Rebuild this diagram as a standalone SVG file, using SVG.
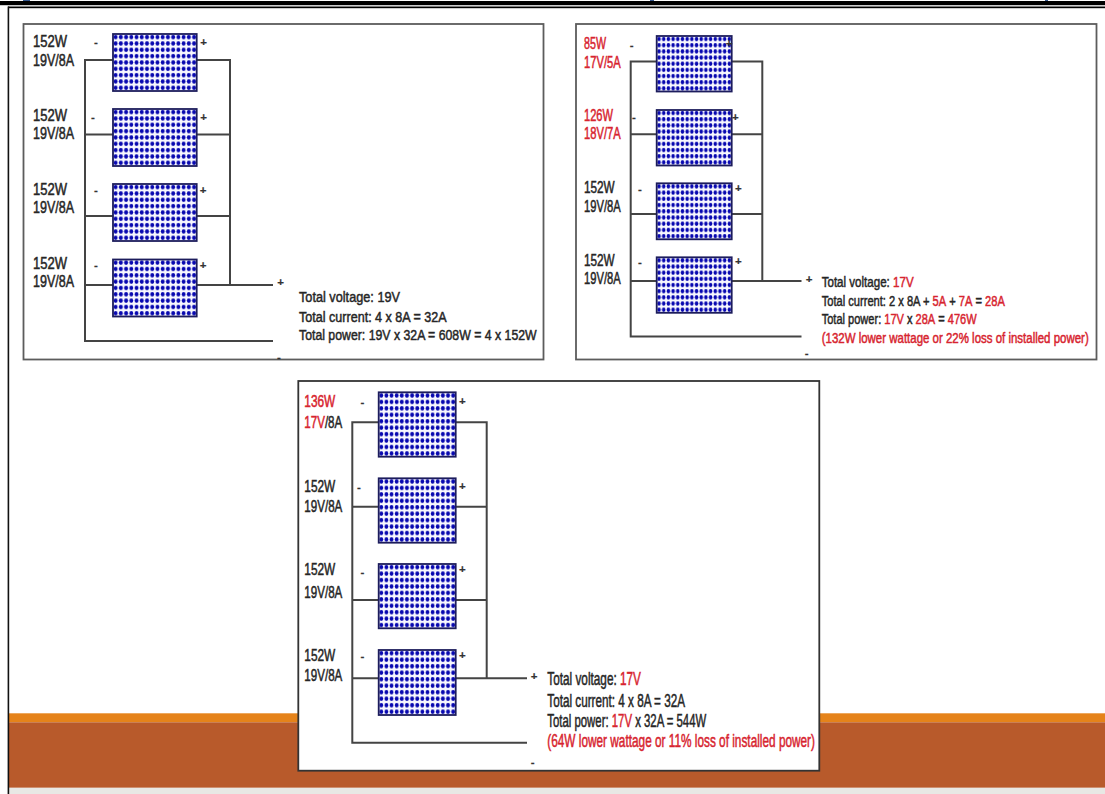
<svg xmlns="http://www.w3.org/2000/svg" width="1105" height="794" viewBox="0 0 1105 794">
<style>
text{font-family:"Liberation Sans",Arial,sans-serif;fill:#262626;stroke:#262626;stroke-width:.5}
.l{font-size:16px}.t1{font-size:15.5px}.t2{font-size:15px}.t3{font-size:17.5px}
.s{font-size:11.5px;text-anchor:middle;font-weight:bold;stroke-width:.2;fill:#333;stroke:#333}
.r,.r tspan,tspan.r{fill:#d7242f;stroke:#d7242f}
.panel{fill:#fff;stroke:#5c5c5c;stroke-width:1.8}
.m{stroke:#1c1c5c;stroke-width:1.8}.m9{fill:url(#cells9)}.m10{fill:url(#cells10)}
.w{fill:none;stroke:#444;stroke-width:2}
</style>
<defs>
<pattern id="cells9" width=".0625" height=".1111" patternContentUnits="objectBoundingBox"><rect width=".0625" height=".1111" fill="#f8f8ff"/><ellipse cx=".03125" cy=".0555" rx=".0235" ry=".039" fill="#0808b0"/></pattern>
<pattern id="cells10" width=".0667" height=".1" patternContentUnits="objectBoundingBox"><rect width=".0667" height=".1" fill="#f8f8ff"/><ellipse cx=".0333" cy=".05" rx=".025" ry=".035" fill="#0808b0"/></pattern>
</defs>
<rect width="1105" height="794" fill="#fff"/>
<g id="footer">
<rect x="9" y="713.3" width="1096" height="9" fill="#e5831a"/>
<rect x="9" y="722.3" width="1096" height="65.5" fill="#b85a2b"/>
<rect x="9" y="787.8" width="1096" height="6.2" fill="#e8e8e4"/>
</g>
<g id="frame">
<rect x="0" y="1" width="1105" height="4.2" fill="#000"/>
<rect x="8" y="6.5" width="1097" height="1.7" fill="#000"/>
<rect x="7.6" y="6.5" width="1.6" height="787.5" fill="#111"/>
<rect x="23" y="0" width="7" height="1" fill="#34568c"/><rect x="650" y="0" width="4" height="1" fill="#34568c"/><rect x="1045" y="0" width="3" height="1" fill="#34568c"/>
</g>

<g id="panel-1">
<rect class="panel" x="23.5" y="24" width="520" height="335.5"/>
<g id="p1-connectors"><path class="w" d="M113 60H85V341H273M196.7 60H230V285M85 134.5H113M196.7 134.5H230M85 216H113M196.7 216H230M85 285H113M196.7 285H273"/></g>
<g id="p1-m1"><rect class="m m9" x="113" y="34" width="83.7" height="57"/><text class="l" x="33" y="46.5" textLength="34" lengthAdjust="spacingAndGlyphs">152W</text><text class="l" x="33" y="65.5" textLength="41" lengthAdjust="spacingAndGlyphs">19V/8A</text><text class="s" x="96" y="46">-</text><text class="s" x="203.5" y="46">+</text></g>
<g id="p1-m2"><rect class="m m9" x="113" y="109" width="83.7" height="57"/><text class="l" x="33" y="120.7" textLength="34" lengthAdjust="spacingAndGlyphs">152W</text><text class="l" x="33" y="139.3" textLength="41" lengthAdjust="spacingAndGlyphs">19V/8A</text><text class="s" x="93" y="121">-</text><text class="s" x="203.5" y="120.5">+</text></g>
<g id="p1-m3"><rect class="m m9" x="113" y="184" width="83.7" height="57"/><text class="l" x="33" y="194.7" textLength="34" lengthAdjust="spacingAndGlyphs">152W</text><text class="l" x="33" y="213" textLength="41" lengthAdjust="spacingAndGlyphs">19V/8A</text><text class="s" x="96" y="194">-</text><text class="s" x="203" y="194">+</text></g>
<g id="p1-m4"><rect class="m m9" x="113" y="259.5" width="83.7" height="57"/><text class="l" x="33" y="268.5" textLength="34" lengthAdjust="spacingAndGlyphs">152W</text><text class="l" x="33" y="287" textLength="41" lengthAdjust="spacingAndGlyphs">19V/8A</text><text class="s" x="96" y="269">-</text><text class="s" x="203" y="268.7">+</text></g>
<g id="p1-terminals"><text class="s" x="280.7" y="286">+</text><text class="s" x="279" y="361">-</text></g>
<g id="p1-totals">
<text class="t1" x="299" y="302.3" textLength="101" lengthAdjust="spacingAndGlyphs">Total voltage: 19V</text>
<text class="t1" x="299" y="321.7" textLength="147.7" lengthAdjust="spacingAndGlyphs">Total current: 4 x 8A = 32A</text>
<text class="t1" x="299" y="340" textLength="237.7" lengthAdjust="spacingAndGlyphs">Total power: 19V x 32A = 608W = 4 x 152W</text>
</g>
</g>

<g id="panel-2">
<rect class="panel" x="576" y="24" width="520.5" height="335.5"/>
<g id="p2-connectors"><path class="w" d="M656.7 61.5H630.7V336.5H801.5M731.7 61.5H762.3V281M630.7 134.3H656.7M731.7 134.3H762.3M630.7 214H656.7M731.7 214H762.3M630.7 281H656.7M731.7 281H801.5"/></g>
<g id="p2-m1"><rect class="m m9" x="656.7" y="36" width="75" height="55.5"/><text class="l r" x="584" y="49" textLength="22" lengthAdjust="spacingAndGlyphs">85W</text><text class="l r" x="584" y="67.7" textLength="36.7" lengthAdjust="spacingAndGlyphs">17V/5A</text><text class="s" x="631.7" y="48.7">-</text><text class="s" x="729" y="47">+</text></g>
<g id="p2-m2"><rect class="m m9" x="656.7" y="110" width="75" height="55.5"/><text class="l r" x="584" y="121" textLength="29" lengthAdjust="spacingAndGlyphs">126W</text><text class="l r" x="584" y="139.3" textLength="36.7" lengthAdjust="spacingAndGlyphs">18V/7A</text><text class="s" x="634" y="121">-</text><text class="s" x="735.3" y="120.7">+</text></g>
<g id="p2-m3"><rect class="m m9" x="656.7" y="183.3" width="75" height="56"/><text class="l" x="584" y="193.3" textLength="30.7" lengthAdjust="spacingAndGlyphs">152W</text><text class="l" x="584" y="212" textLength="36.7" lengthAdjust="spacingAndGlyphs">19V/8A</text><text class="s" x="640" y="193.3">-</text><text class="s" x="738.3" y="192.3">+</text></g>
<g id="p2-m4"><rect class="m m9" x="656.7" y="257.3" width="75" height="55.5"/><text class="l" x="584" y="266" textLength="30.7" lengthAdjust="spacingAndGlyphs">152W</text><text class="l" x="584" y="284" textLength="36.7" lengthAdjust="spacingAndGlyphs">19V/8A</text><text class="s" x="640" y="265.7">-</text><text class="s" x="738.3" y="265">+</text></g>
<g id="p2-terminals"><text class="s" x="809" y="283">+</text><text class="s" x="806.7" y="356.6">-</text></g>
<g id="p2-totals">
<text class="t2" transform="translate(821.7 287.3) scale(.772 1)">Total voltage: <tspan class="r">17V</tspan></text>
<text class="t2" transform="translate(821.7 306) scale(.742 1)">Total current: 2 x 8A + <tspan class="r">5A</tspan> + <tspan class="r">7A</tspan> = <tspan class="r">28A</tspan></text>
<text class="t2" transform="translate(821.7 324) scale(.7366 1)">Total power: <tspan class="r">17V</tspan> x <tspan class="r">28A</tspan> = <tspan class="r">476W</tspan></text>
<text class="t2 r" transform="translate(821.7 342.7) scale(.765 1)">(132W lower wattage or 22% loss of installed power)</text>
</g>
</g>

<g id="panel-3">
<rect class="panel" style="stroke:#333" x="298.3" y="381" width="521" height="389.7"/>
<g id="p3-connectors"><path class="w" d="M378.7 422.3H352.3V742.7H527M455.7 422.3H486.7V678.3M352.3 506.7H378.7M455.7 506.7H486.7M352.3 600H378.7M455.7 600H486.7M352.3 678.3H378.7M455.7 678.3H527"/></g>
<g id="p3-m1"><rect class="m m10" x="378.7" y="392.3" width="77" height="64.4"/><text class="l r" x="304.3" y="406.7" textLength="31" lengthAdjust="spacingAndGlyphs">136W</text><text class="l" transform="translate(304.3 427.7) scale(.724 1)"><tspan class="r">17V</tspan>/8A</text><text class="s" x="362.3" y="405.7">-</text><text class="s" x="462.3" y="405">+</text></g>
<g id="p3-m2"><rect class="m m10" x="378.7" y="478.3" width="77" height="64.4"/><text class="l" x="304.3" y="491.7" textLength="31" lengthAdjust="spacingAndGlyphs">152W</text><text class="l" x="304.3" y="512.3" textLength="38" lengthAdjust="spacingAndGlyphs">19V/8A</text><text class="s" x="359" y="491.3">-</text><text class="s" x="462.3" y="490.3">+</text></g>
<g id="p3-m3"><rect class="m m10" x="378.7" y="564" width="77" height="64.3"/><text class="l" x="304.3" y="575" textLength="31" lengthAdjust="spacingAndGlyphs">152W</text><text class="l" x="304.3" y="597.7" textLength="38" lengthAdjust="spacingAndGlyphs">19V/8A</text><text class="s" x="362.3" y="575.7">-</text><text class="s" x="462.3" y="573.3">+</text></g>
<g id="p3-m4"><rect class="m m10" x="378.7" y="650" width="77" height="65"/><text class="l" x="304.3" y="660.7" textLength="31" lengthAdjust="spacingAndGlyphs">152W</text><text class="l" x="304.3" y="681" textLength="38" lengthAdjust="spacingAndGlyphs">19V/8A</text><text class="s" x="362.3" y="659.7">-</text><text class="s" x="462.3" y="659">+</text></g>
<g id="p3-terminals"><text class="s" x="534" y="679.7">+</text><text class="s" x="532.7" y="765.7">-</text></g>
<g id="p3-totals">
<text class="t3" transform="translate(547.3 685) scale(.674 1)">Total voltage: <tspan class="r">17V</tspan></text>
<text class="t3" x="547.3" y="706.7" textLength="137.7" lengthAdjust="spacingAndGlyphs">Total current: 4 x 8A = 32A</text>
<text class="t3" transform="translate(547.3 727.3) scale(.65 1)">Total power: <tspan class="r">17V</tspan> x 32A = 544W</text>
<text class="t3 r" x="547.3" y="747.3" textLength="267.7" lengthAdjust="spacingAndGlyphs">(64W lower wattage or 11% loss of installed power)</text>
</g>
</g>
</svg>
